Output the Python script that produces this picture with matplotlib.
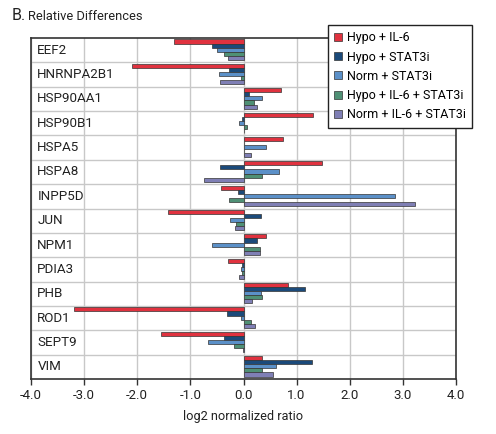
import matplotlib
matplotlib.use("Agg")
import matplotlib.pyplot as plt
import numpy as np

plt.rcParams['font.family'] = ['Roboto', 'DejaVu Sans']

genes = ["EEF2", "HNRNPA2B1", "HSP90AA1", "HSP90B1", "HSPA5", "HSPA8", "INPP5D",
         "JUN", "NPM1", "PDIA3", "PHB", "ROD1", "SEPT9", "VIM"]
series_names = ["Hypo + IL-6", "Hypo + STAT3i", "Norm + STAT3i",
                "Hypo + IL-6 + STAT3i", "Norm + IL-6 + STAT3i"]
hypo_il6 = [-1.30, -2.09, 0.70, 1.31, 0.74, 1.47, -0.42, -1.43, 0.42, -0.30, 0.83, -3.19, -1.55, 0.35]
hypo_stat3i = [-0.59, -0.28, 0.11, -0.03, 0.01, -0.44, -0.11, 0.33, 0.25, -0.03, 1.15, -0.32, -0.37, 1.28]
norm_stat3i = [-0.50, -0.47, 0.35, -0.09, 0.42, 0.66, 2.86, -0.26, -0.59, -0.04, 0.33, -0.04, -0.66, 0.61]
hypo_il6_stat3i = [-0.36, -0.04, 0.19, 0.06, 0.01, 0.35, -0.28, -0.14, 0.31, -0.03, 0.35, 0.14, -0.17, 0.35]
norm_il6_stat3i = [-0.30, -0.44, 0.25, 0.01, 0.14, -0.74, 3.22, -0.16, 0.31, -0.08, 0.16, 0.21, -0.01, 0.55]
x_ticks = [-4.0, -3.0, -2.0, -1.0, 0.0, 1.0, 2.0, 3.0, 4.0]

colors = ["#e0323f", "#1b4a7a", "#5b90c8", "#4f9075", "#7f7fb5"]
all_series = [hypo_il6, hypo_stat3i, norm_stat3i, hypo_il6_stat3i, norm_il6_stat3i]

fig = plt.figure(figsize=(4.96, 4.34), dpi=100)
ax = fig.add_axes([31/496, 1-379/434, (456-31)/496, (379-38)/434])

h = 0.168
y = np.arange(len(genes))
for k, (vals, c, name) in enumerate(zip(all_series, colors, series_names)):
    ax.barh(y + (k - 2) * h - 0.02, vals, height=h, color=c, edgecolor="#333333",
            linewidth=0.5, label=name, zorder=3)

ax.set_ylim(len(genes) - 0.5, -0.5)
ax.set_xlim(-4, 4)
ax.set_xticks(x_ticks)
ax.set_xticklabels([f"{t:.1f}" for t in x_ticks], fontsize=9.5, color="#222222")
ax.set_yticks([])
for i in range(len(genes) - 1):
    ax.axhline(i + 0.5, color="#c8c8c8", lw=1.0, zorder=1)
ax.grid(axis="x", color="#c8c8c8", lw=1.0, zorder=1)
ax.set_axisbelow(True)
for i, g in enumerate(genes):
    ax.text(-3.88, i, g, fontsize=9.6, va="center", ha="left", color="#222222", zorder=4)
for s in ax.spines.values():
    s.set_color("#333333")
    s.set_linewidth(1.2)
ax.tick_params(axis="x", direction="out", length=4, width=1, color="#333333", pad=3)
ax.set_xlabel("log2 normalized ratio", fontsize=9.2, color="#222222", labelpad=6)

fig.text(12/496, 1-20/434, "B.", fontsize=11.5, color="#222222", va="baseline")
fig.text(28/496, 1-20/434, "Relative Differences", fontsize=9.3, color="#222222", va="baseline")

leg = ax.legend(loc="upper left", bbox_to_anchor=(328/496, 1-25/434), bbox_transform=fig.transFigure,
                borderaxespad=0, fancybox=False, frameon=True, fontsize=9,
                handlelength=0.6, handleheight=0.6, handletextpad=0.4, labelspacing=0.5,
                borderpad=0.5)
leg.get_frame().set_edgecolor("#222222")
leg.get_frame().set_linewidth(1.0)
leg.get_frame().set_alpha(1)

fig.savefig("out.png", dpi=100)
